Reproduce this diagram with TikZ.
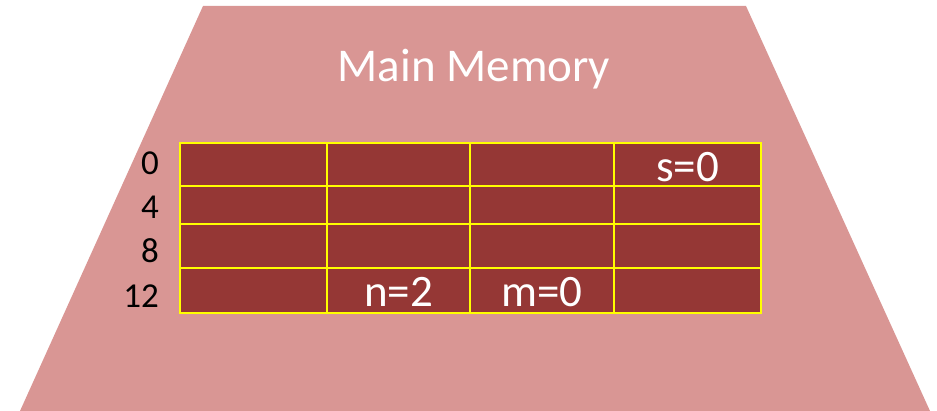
\documentclass[tikz,border=0pt]{standalone}
\usepackage{fontspec}
\setmainfont{Carlito}
\usetikzlibrary{positioning}
\definecolor{memback}{HTML}{D99694}
\definecolor{cellred}{HTML}{953735}
\definecolor{gridyellow}{HTML}{FFFF00}
\tikzset{
  cell/.style={draw=gridyellow,fill=cellred,line width=2.9pt,
               inner sep=0pt,outer sep=0pt},
  val/.style={text=white,font=\fontsize{45}{45}\selectfont,anchor=base,
              inner sep=0pt},
  addr/.style={font=\fontsize{35}{35}\selectfont,anchor=base east,
               inner sep=0pt},
}

\begin{document}
\begin{tikzpicture}[x=1pt,y=-1pt]
    \useasboundingbox (0,0) rectangle (937,411);
    % memory body
    \fill[memback] (203,6) -- (746,6) -- (930,411) -- (20,411) -- cycle;
    \node[text=white,font=\fontsize{47}{47}\selectfont,anchor=base,
          inner sep=0pt] (title) at (474,82) {Main Memory};
    % grid of words
    \foreach \r/\yt/\yb in {0/143/186,1/186/224,2/224/268,3/268/313}
      \foreach \c/\xl/\xr in {0/180/327,1/327/470,2/470/614,3/614/761}
        \node[cell,minimum width={(\xr-\xl)*1pt},
              minimum height={(\yb-\yt)*1pt}]
          (c\r\c) at ({(\xl+\xr)/2},{(\yt+\yb)/2}) {};
    % addresses
    \node[addr] (a0) at (159,175) {0};
    \node[addr] (a4) at (159,219) {4};
    \node[addr] (a8) at (159,263) {8};
    \node[addr] (a12) at (159,308) {12};
    % values
    \node[val] (vs) at (c03.center |- 0,182) {s=0};
    \node[val] (vn) at (c31.center |- 0,307) {n=2};
    \node[val] (vm) at (c32.center |- 0,307) {m=0};
\end{tikzpicture}
\end{document}
